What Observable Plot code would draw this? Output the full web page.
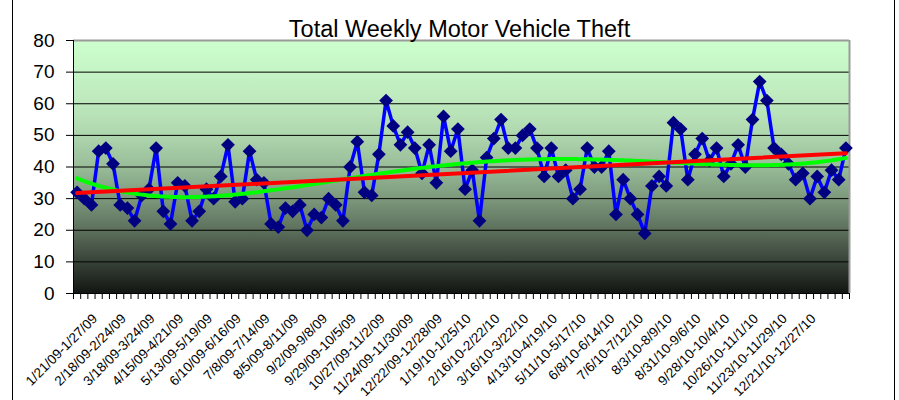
<!DOCTYPE html>
<html>
<head>
<meta charset="utf-8">
<script src="https://cdn.jsdelivr.net/npm/d3@7"></script>
<script src="https://cdn.jsdelivr.net/npm/@observablehq/plot@0.6"></script>
<style>
  html, body { margin: 0; padding: 0; background: #ffffff; }
  #chart { position: relative; width: 899px; height: 400px; overflow: hidden; }
</style>
</head>
<body>
<div id="chart"></div>
<script>
// ---- data ----
const chartTitle = "Total Weekly Motor Vehicle Theft";
const tickLabels = [
  "1/21/09-1/27/09", "2/18/09-2/24/09", "3/18/09-3/24/09", "4/15/09-4/21/09",
  "5/13/09-5/19/09", "6/10/09-6/16/09", "7/8/09-7/14/09", "8/5/09-8/11/09",
  "9/2/09-9/8/09", "9/29/09-10/5/09", "10/27/09-11/2/09", "11/24/09-11/30/09",
  "12/22/09-12/28/09", "1/19/10-1/25/10", "2/16/10-2/22/10", "3/16/10-3/22/10",
  "4/13/10-4/19/10", "5/11/10-5/17/10", "6/8/10-6/14/10", "7/6/10-7/12/10",
  "8/3/10-8/9/10", "8/31/10-9/6/10", "9/28/10-10/4/10", "10/26/10-11/1/10",
  "11/23/10-11/29/10", "12/21/10-12/27/10"
];
const weeklyThefts = [
  32, 30, 28, 45, 46, 41, 28, 27, 23, 31,
  33, 46, 26, 22, 35, 34, 23, 26, 33, 30,
  37, 47, 29, 30, 45, 36, 35, 22, 21, 27,
  26, 28, 20, 25, 24, 30, 28, 23, 40, 48,
  32, 31, 44, 61, 53, 47, 51, 46, 38, 47,
  35, 56, 45, 52, 33, 39, 23, 43, 49, 55,
  46, 46, 50, 52, 46, 37, 46, 37, 39, 30,
  33, 46, 40, 40, 45, 25, 36, 30, 25, 19,
  34, 37, 34, 54, 52, 36, 44, 49, 42, 46,
  37, 41, 47, 40, 55, 67, 61, 46, 44, 41,
  36, 38, 30, 37, 32, 39, 36, 46
];
const labelEvery = 4;
const yTicks = [0, 10, 20, 30, 40, 50, 60, 70, 80];
const polyOrder = 4;

// ---- derived tables ----
const weeks = weeklyThefts.map((v, i) => ({i, v}));
const n = weeklyThefts.length;
const labelIdx = tickLabels.map((_, k) => k * labelEvery);
const boundaries = d3.range(n + 1).map(k => k - 0.5);

// polynomial least-squares trend (computed from the data)
function polyFit(xs, ys, order) {
  const c = (xs[0] + xs[xs.length - 1]) / 2, s = (xs[xs.length - 1] - xs[0]) / 2;
  const m = order + 1;
  const A = Array.from({length: m}, () => new Array(m + 1).fill(0));
  xs.forEach((x, k) => {
    const t = (x - c) / s;
    const p = [];
    for (let j = 0; j < m; j++) p.push(Math.pow(t, j));
    for (let r = 0; r < m; r++) {
      for (let q = 0; q < m; q++) A[r][q] += p[r] * p[q];
      A[r][m] += p[r] * ys[k];
    }
  });
  for (let col = 0; col < m; col++) {
    let piv = col;
    for (let r = col + 1; r < m; r++) if (Math.abs(A[r][col]) > Math.abs(A[piv][col])) piv = r;
    [A[col], A[piv]] = [A[piv], A[col]];
    for (let r = 0; r < m; r++) {
      if (r === col) continue;
      const f = A[r][col] / A[col][col];
      for (let q = col; q <= m; q++) A[r][q] -= f * A[col][q];
    }
  }
  const coef = A.map((row, r) => row[m] / row[r]);
  return x => { const t = (x - c) / s; let y = 0; for (let j = m - 1; j >= 0; j--) y = y * t + coef[j]; return y; };
}
const poly = polyFit(weeks.map(d => d.i), weeks.map(d => d.v), polyOrder);
const polyPts = d3.range(0, n - 1 + 1e-9, 0.25).map(x => ({x, y: poly(x)}));

const font = "'Liberation Sans', Arial, Helvetica, sans-serif";

const gradientDefs = () => {
  const ns = "http://www.w3.org/2000/svg";
  const defs = document.createElementNS(ns, "defs");
  const g = document.createElementNS(ns, "linearGradient");
  g.setAttribute("id", "bgGrad");
  g.setAttribute("x1", "0"); g.setAttribute("y1", "0");
  g.setAttribute("x2", "0"); g.setAttribute("y2", "1");
  [[0, "#cdffcd"], [0.25, "#bde8bd"], [0.375, "#aed6ae"], [0.5, "#98bc98"],
   [0.625, "#7c987c"], [0.75, "#5c6f5c"], [0.875, "#384238"], [1, "#121512"]]
    .forEach(([o, c]) => {
      const st = document.createElementNS(ns, "stop");
      st.setAttribute("offset", o);
      st.setAttribute("stop-color", c);
      g.appendChild(st);
    });
  defs.appendChild(g);
  return defs;
};

const plot = Plot.plot({
  width: 899,
  height: 400,
  marginLeft: 73,
  marginRight: 50,
  marginTop: 40,
  marginBottom: 107,
  style: {fontFamily: font, background: "#ffffff", overflow: "visible"},
  x: {type: "linear", domain: [-0.5, n - 0.5], axis: null},
  y: {domain: [0, 80], axis: null},
  marks: [
    gradientDefs,
    Plot.frame({fill: "url(#bgGrad)", stroke: null}),
    Plot.ruleY(yTicks.filter(t => t > 0 && t < 80), {stroke: "#000000", strokeWidth: 1}),
    Plot.ruleY([80], {stroke: "#9a9a9a", strokeWidth: 2}),
    Plot.ruleX([n - 0.5], {stroke: "#9a9a9a", strokeWidth: 2}),
    Plot.ruleX([-0.5], {stroke: "#000000", strokeWidth: 1}),
    Plot.ruleY([0], {stroke: "#000000", strokeWidth: 1}),
    Plot.axisY({ticks: yTicks, tickSize: 7, tickPadding: 12, fontSize: 19, tickFormat: d => String(d), anchor: "left"}),
    Plot.axisX({ticks: boundaries, tickSize: 6, tickFormat: () => "", anchor: "bottom"}),
    Plot.text(labelIdx, {
      x: d => d, frameAnchor: "bottom",
      text: (d, k) => tickLabels[k],
      rotate: -45, textAnchor: "end", dx: 21, dy: 26, fontSize: 13.5
    }),
    Plot.line(weeks, {x: "i", y: "v", stroke: "#0000ff", strokeWidth: 3.5}),
    Plot.dot(weeks, {x: "i", y: "v", symbol: "diamond2", r: 6.2, fill: "#000080", stroke: null}),
    Plot.line(polyPts, {x: "x", y: "y", stroke: "#00ff00", strokeWidth: 4}),
    Plot.linearRegressionY(weeks, {x: "i", y: "v", stroke: "#ff0000", strokeWidth: 4, ci: 0}),
    Plot.text([chartTitle], {frameAnchor: "top", dx: -2, dy: -20, fontSize: 23.5})
  ]
});

const svg = d3.select(plot);
svg.append("line").attr("x1", 12.5).attr("x2", 12.5).attr("y1", 0).attr("y2", 400).attr("stroke", "#000");
svg.append("line").attr("x1", 894.5).attr("x2", 894.5).attr("y1", 0).attr("y2", 400).attr("stroke", "#000");

document.getElementById("chart").appendChild(plot);
</script>
</body>
</html>
